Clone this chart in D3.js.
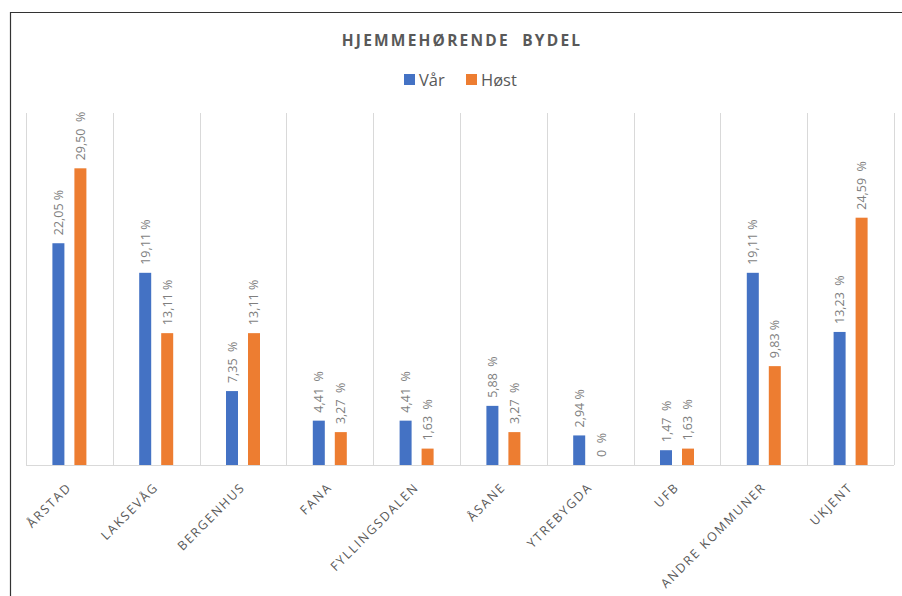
<!DOCTYPE html>
<html>
<head>
<meta charset="utf-8">
<script src="https://cdn.jsdelivr.net/npm/d3@7"></script>
<style>
  body { margin: 0; background: #fff; }
  svg { display: block; }
</style>
</head>
<body>
<svg></svg>
<script>
//Setting
const width = 902;
const height = 596;

//Data
const categories = ["ÅRSTAD", "LAKSEVÅG", "BERGENHUS", "FANA", "FYLLINGSDALEN",
                    "ÅSANE", "YTREBYGDA", "UFB", "ANDRE KOMMUNER", "UKJENT"];
const seriesNames = ["Vår", "Høst"];
const varValues = [22.05, 19.11, 7.35, 4.41, 4.41, 5.88, 2.94, 1.47, 19.11, 13.23];
const hostValues = [29.50, 13.11, 13.11, 3.27, 1.63, 3.27, 0, 1.63, 9.83, 24.59];
const varLabels = ["22,05 %", "19,11 %", "7,35  %", "4,41  %", "4,41  %",
                   "5,88  %", "2,94 %", "1,47  %", "19,11 %", "13,23  %"];
const hostLabels = ["29,50  %", "13,11 %", "13,11 %", "3,27  %", "1,63  %",
                    "3,27  %", "0  %", "1,63  %", "9,83 %", "24,59  %"];

const colors = ["#4472C4", "#ED7D31"];

const svg = d3.select("svg")
            .attr("width", width)
            .attr("height", height);

// frame (only left + top edges visible)
svg.append("path")
   .attr("d", "M10.5,596 L10.5,12.5 L902,12.5")
   .attr("fill", "none")
   .attr("stroke", "#333")
   .attr("stroke-width", 1.2);

const plot = {left: 26, right: 894, top: 113, bottom: 465};

const x = d3.scaleBand()
            .domain(categories)
            .range([plot.left, plot.right]);

const xInner = d3.scaleBand()
                 .domain(seriesNames)
                 .range([0, x.bandwidth()])
                 .paddingInner(0.4545)
                 .paddingOuter(1.2);

const y = d3.scaleLinear()
            .domain([0, 35])
            .range([plot.bottom, plot.top]);

// category separators
svg.append("g")
   .selectAll("line")
   .data(d3.range(categories.length + 1))
   .enter()
   .append("line")
   .attr("x1", (i) => Math.round(plot.left + i * x.step()) + 0.5)
   .attr("x2", (i) => Math.round(plot.left + i * x.step()) + 0.5)
   .attr("y1", plot.top)
   .attr("y2", plot.bottom)
   .attr("stroke", "#d9d9d9")
   .attr("stroke-width", 1);

// baseline
svg.append("line")
   .attr("x1", plot.left)
   .attr("x2", plot.right)
   .attr("y1", y(0) + 0.5)
   .attr("y2", y(0) + 0.5)
   .attr("stroke", "#d9d9d9")
   .attr("stroke-width", 1.2);

const rows = categories.map((c, i) => ({
  cat: c,
  vals: [
    {s: seriesNames[0], v: varValues[i], lab: varLabels[i]},
    {s: seriesNames[1], v: hostValues[i], lab: hostLabels[i]}
  ]
}));

const groups = svg.append("g")
   .selectAll("g")
   .data(rows)
   .enter()
   .append("g")
   .attr("transform", (d) => `translate(${x(d.cat)},0)`);

groups.selectAll("rect")
   .data((d) => d.vals)
   .enter()
   .append("rect")
   .attr("x", (d) => xInner(d.s))
   .attr("width", xInner.bandwidth())
   .attr("y", (d) => y(d.v))
   .attr("height", (d) => y(0) - y(d.v))
   .attr("fill", (d, i) => colors[i]);

groups.selectAll("text")
   .data((d) => d.vals)
   .enter()
   .append("text")
   .attr("transform", (d) => `translate(${xInner(d.s) + xInner.bandwidth() / 2 + 4.5},${y(d.v) - 8}) rotate(-90)`)
   .style("white-space", "pre")
   .attr("xml:space", "preserve")
   .attr("font-family", "'Open Sans', sans-serif")
   .attr("font-size", 12.5)
   .attr("fill", "#7f7f7f")
   .text((d) => d.lab);

// x labels
svg.append("g")
   .selectAll("text")
   .data(categories)
   .enter()
   .append("text")
   .attr("transform", (d) => `translate(${x(d) + x.bandwidth() / 2 + 3},${plot.bottom + 23}) rotate(-45)`)
   .attr("text-anchor", "end")
   .attr("font-family", "'Open Sans', sans-serif")
   .attr("font-size", 12.5)
   .attr("letter-spacing", 1.8)
   .attr("fill", "#595959")
   .text((d) => d);

// title
svg.append("text")
   .attr("x", 462)
   .attr("y", 46)
   .attr("text-anchor", "middle")
   .attr("font-family", "'Open Sans', sans-serif")
   .attr("font-weight", "bold")
   .attr("font-size", 15.5)
   .attr("letter-spacing", 2.2)
   .attr("fill", "#595959")
   .style("white-space", "pre")
   .attr("xml:space", "preserve")
   .text("HJEMMEHØRENDE  BYDEL");

// legend
const legend = svg.append("g")
   .attr("transform", "translate(404,74)");

const legendX = [0, 62];

legend.selectAll("rect")
   .data(seriesNames)
   .enter()
   .append("rect")
   .attr("x", (d, i) => legendX[i])
   .attr("y", 0)
   .attr("width", 11)
   .attr("height", 11)
   .attr("fill", (d, i) => colors[i]);

legend.selectAll("text")
   .data(seriesNames)
   .enter()
   .append("text")
   .attr("x", (d, i) => legendX[i] + 15)
   .attr("y", 12)
   .attr("font-family", "'Open Sans', sans-serif")
   .attr("font-size", 16.5)
   .attr("fill", "#595959")
   .text((d) => d);
</script>
</body>
</html>
